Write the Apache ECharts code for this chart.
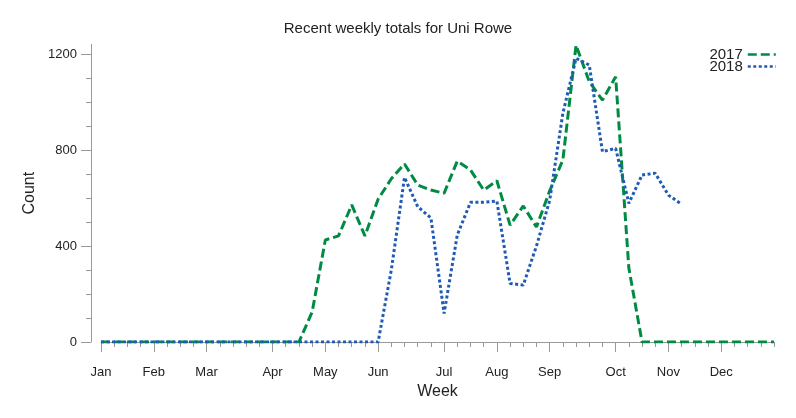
<!DOCTYPE html>
<html>
<head>
<meta charset="utf-8">
<script src="https://cdn.jsdelivr.net/npm/echarts@6/dist/echarts.min.js"></script>
<style>
  html, body { margin: 0; padding: 0; background: #fff; }
  #chart { width: 796px; height: 418px; }
</style>
</head>
<body>
<div id="chart"></div>
<script>
// 52 weeks of the year
const weeks = []
for (let i = 1; i <= 52; i++) weeks.push('W' + i)

// month label shown at the first week tick of each month
const monthWeek = [0, 4, 8, 13, 17, 21, 26, 30, 34, 39, 43, 47]
const monthNames = ['Jan', 'Feb', 'Mar', 'Apr', 'May', 'Jun', 'Jul', 'Aug', 'Sep', 'Oct', 'Nov', 'Dec']

const yMajor = [0, 400, 800, 1200]
const yMinor = [0, 100, 200, 300, 400, 500, 600, 700, 800, 900, 1000, 1100, 1200]

// weekly totals
const data2017 = [
  0, 0, 0, 0, 0, 0, 0, 0, 0, 0, 0, 0, 0, 0, 0, 0,
  125, 425, 442, 571, 442, 595, 680, 742, 654, 633, 620, 754, 717, 633,
  672, 487, 567, 479, 630, 758, 1237, 1085, 1008, 1105, 308,
  0, 0, 0, 0, 0, 0, 0, 0, 0, 0, 0
]
const data2018 = [
  0, 0, 0, 0, 0, 0, 0, 0, 0, 0, 0, 0, 0, 0, 0, 0, 0, 0, 0, 0, 0, 0,
  300, 686, 564, 517, 119, 446, 582, 582, 587, 244, 237, 400, 590, 953,
  1182, 1154, 793, 807, 578, 696, 703, 612, 574
]

const green = '#008b45'
const blue = '#1f5bb5'
const axisGray = '#999'
const textColor = '#222'

const chart = echarts.init(document.getElementById('chart'))
chart.setOption({
  animation: false,
  textStyle: { fontFamily: 'Liberation Sans, Arial, sans-serif' },
  title: {
    text: 'Recent weekly totals for Uni Rowe',
    left: 'center',
    top: 16,
    textStyle: { fontSize: 15, fontWeight: 'normal', color: textColor }
  },
  legend: {
    orient: 'vertical',
    right: 14,
    top: 42,
    align: 'right',
    itemWidth: 28,
    itemHeight: 10,
    itemGap: -3,
    // hide the symbol drawn in the middle of the legend line
    itemStyle: { color: 'transparent', borderColor: 'transparent', borderWidth: 0 },
    lineStyle: { width: 2.5 },
    textStyle: { fontSize: 15, color: textColor },
    data: ['2017', '2018']
  },
  grid: { left: 101, right: 22, top: 44.4, bottom: 76, containLabel: false },
  xAxis: [
    {
      // short weekly ticks
      type: 'category',
      data: weeks,
      boundaryGap: false,
      position: 'bottom',
      offset: 12,
      axisLine: { lineStyle: { color: axisGray, width: 1 } },
      axisTick: { interval: 0, length: 5, lineStyle: { color: axisGray } },
      axisLabel: { show: false },
      splitLine: { show: false }
    },
    {
      // long month ticks with labels
      type: 'category',
      data: weeks,
      boundaryGap: false,
      position: 'bottom',
      offset: 12,
      name: 'Week',
      nameLocation: 'middle',
      nameGap: 23,
      nameTextStyle: { fontSize: 16, color: textColor },
      axisLine: { show: false },
      axisTick: {
        interval: (i) => monthWeek.indexOf(i) >= 0,
        length: 10,
        lineStyle: { color: axisGray }
      },
      axisLabel: {
        interval: (i) => monthWeek.indexOf(i) >= 0,
        formatter: (v, i) => monthNames[monthWeek.indexOf(i)] || '',
        fontSize: 13,
        color: textColor,
        margin: 12
      },
      splitLine: { show: false }
    }
  ],
  yAxis: [
    {
      type: 'value',
      min: 0,
      max: 1240,
      position: 'left',
      offset: 10,
      axisLine: { show: true, lineStyle: { color: axisGray, width: 1 } },
      axisTick: { show: true, customValues: yMinor, length: 5, lineStyle: { color: axisGray } },
      axisLabel: { show: false },
      splitLine: { show: false }
    },
    {
      type: 'value',
      min: 0,
      max: 1240,
      position: 'left',
      offset: 10,
      name: 'Count',
      nameLocation: 'middle',
      nameGap: 53,
      nameTextStyle: { fontSize: 16, color: textColor },
      axisLine: { show: false },
      axisTick: { show: true, customValues: yMajor, length: 10, lineStyle: { color: axisGray } },
      axisLabel: {
        customValues: yMajor,
        formatter: (v) => String(v),
        fontSize: 13,
        color: textColor,
        margin: 14
      },
      splitLine: { show: false }
    }
  ],
  series: [
    {
      name: '2017',
      type: 'line',
      xAxisIndex: 0,
      yAxisIndex: 0,
      data: data2017,
      symbol: 'none',
      lineStyle: { color: green, width: 3, type: [9, 4] },
      itemStyle: { color: green }
    },
    {
      name: '2018',
      type: 'line',
      xAxisIndex: 0,
      yAxisIndex: 0,
      data: data2018,
      symbol: 'none',
      lineStyle: { color: blue, width: 3, type: [3, 2.5] },
      itemStyle: { color: blue }
    }
  ]
})
</script>
</body>
</html>
